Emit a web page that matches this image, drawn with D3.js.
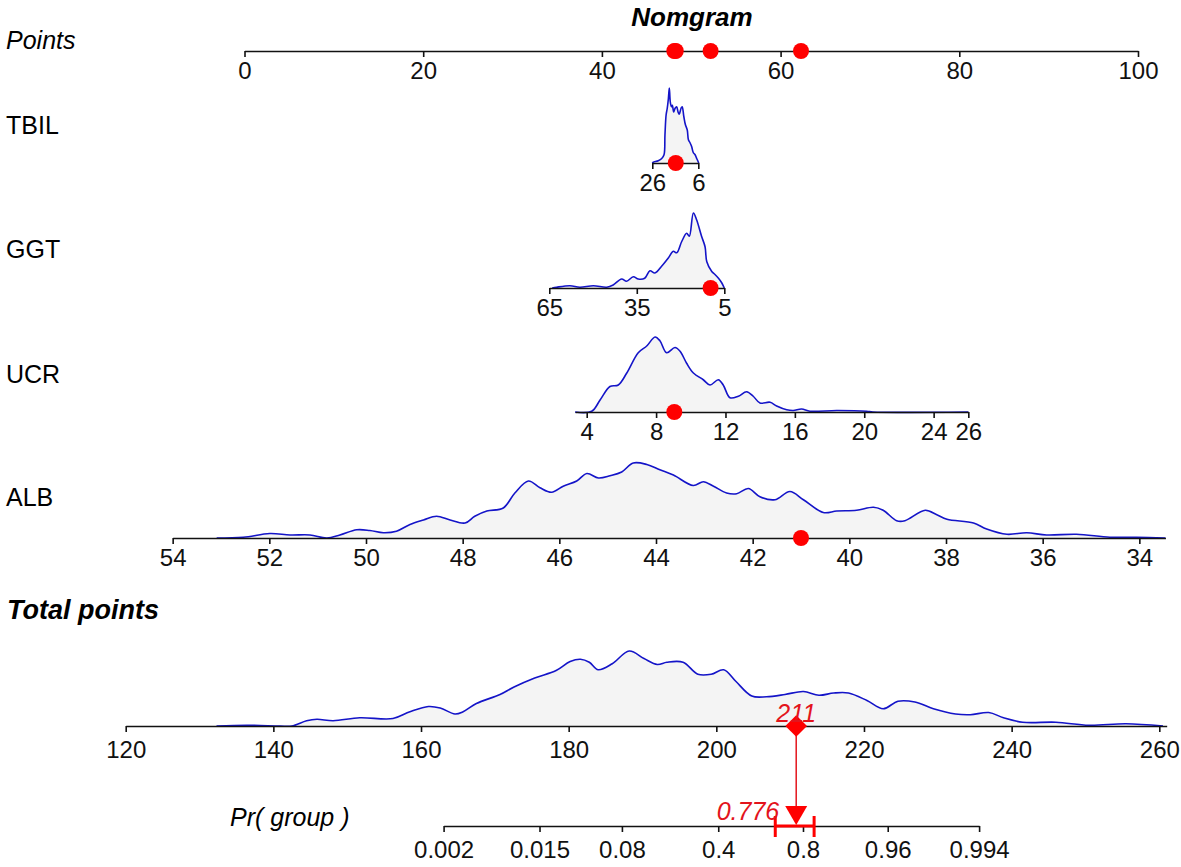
<!DOCTYPE html>
<html>
<head>
    <meta charset="utf-8">
    <title>Nomgram</title>
    <style>
        body { margin: 0; background: #fff; }
        text { font-family: "Liberation Sans", Arial, sans-serif; }
    </style>
</head>
<body>
    <script src="https://cdnjs.cloudflare.com/ajax/libs/d3/7.9.0/d3.min.js"></script>
    <script>

        // ---- data ----
        const pointsTicks = [0, 20, 40, 60, 80, 100];

        const variables = ["TBIL", "GGT", "UCR", "ALB"];

        // value anchors and the points they score
        const tbilValues = [26, 6],  tbilPoints = [45.64, 50.79];
        const ggtValues  = [65, 5],  ggtPoints  = [34.11, 53.70];
        const ucrValues  = [4, 26],  ucrPoints  = [38.30, 81.01];
        const albValues  = [54, 34], albPoints  = [-8.04, 100.15];

        // range of each axis line
        const tbilExtent = [26, 6];
        const ggtExtent  = [65, 5];
        const ucrExtent  = [3.33, 26];
        const albExtent  = [54, 33.46];

        const tbilTicks = [26, 6];
        const ggtTicks  = [65, 35, 5];
        const ucrTicks  = [4, 8, 12, 16, 20, 24, 26];
        const albTicks  = [54, 52, 50, 48, 46, 44, 42, 40, 38, 36, 34];

        // observed patient
        const tbilObs = 15.8, ggtObs = 9.7, ucrObs = 9.05, albObs = 41.0;

        // relative density [value, density]
        const tbilDensity = [[26,0],[25.6,0.01],[23.4,0.03],[21.9,0.06],[20.9,0.11],[20.5,0.37],[20.0,0.64],[19.5,0.73],[19.0,0.86],[18.6,1.0],[18.2,0.82],[17.7,0.75],[17.3,0.77],[16.7,0.68],[16.1,0.73],[15.4,0.75],[14.8,0.68],[14.3,0.65],[13.5,0.73],[13.0,0.75],[12.3,0.62],[11.6,0.51],[10.8,0.44],[10.3,0.31],[9.6,0.27],[8.9,0.22],[8.2,0.14],[7.4,0.11],[6.7,0.06],[5.8,0.0]];
        const ggtDensity = [[64,0],[62.5,0.01],[57.9,0.03],[54.5,0.01],[49.9,0.03],[45.3,0.01],[43.1,0.04],[40.2,0.12],[38.5,0.09],[36.2,0.15],[34.5,0.12],[32.3,0.13],[30.5,0.23],[28.8,0.20],[26.5,0.29],[24.2,0.40],[22.5,0.49],[21.3,0.47],[19.6,0.62],[17.9,0.73],[17.0,0.69],[15.6,1.0],[14.5,0.91],[12.8,0.69],[11.6,0.55],[11.0,0.35],[9.3,0.22],[8.2,0.18],[7.0,0.13],[5.9,0.07],[5.0,0]];
        const ucrDensity = [[3.33,0],[4.29,0.01],[4.77,0.16],[5.34,0.34],[5.82,0.36],[6.31,0.52],[6.97,0.79],[7.46,0.88],[7.94,1.0],[8.22,0.95],[8.61,0.79],[9.09,0.86],[9.38,0.81],[9.76,0.65],[10.15,0.52],[10.72,0.43],[11.11,0.36],[11.59,0.43],[11.87,0.36],[12.26,0.19],[12.74,0.21],[13.22,0.27],[13.6,0.21],[13.99,0.12],[14.57,0.13],[14.95,0.08],[15.53,0.03],[15.91,0.02],[16.39,0.04],[16.87,0.01],[18.41,0.02],[20.14,0.01],[20.5,0],[26,0]];
        const albDensity = [[53.09,0],[52.54,0.01],[51.99,0.06],[51.57,0.04],[51.16,0.04],[50.81,0],[50.54,0.04],[50.19,0.11],[49.92,0.10],[49.64,0.07],[49.37,0.09],[49.09,0.18],[48.81,0.24],[48.54,0.29],[48.26,0.24],[47.95,0.20],[47.75,0.29],[47.5,0.36],[47.16,0.40],[46.92,0.60],[46.64,0.76],[46.4,0.67],[46.16,0.61],[45.92,0.69],[45.64,0.76],[45.43,0.86],[45.19,0.80],[44.95,0.83],[44.71,0.88],[44.47,1.0],[44.19,0.98],[43.92,0.91],[43.64,0.84],[43.23,0.70],[43.02,0.75],[42.81,0.69],[42.54,0.60],[42.33,0.59],[42.09,0.66],[41.85,0.55],[41.54,0.51],[41.23,0.62],[40.95,0.51],[40.54,0.34],[40.26,0.36],[39.85,0.37],[39.5,0.41],[39.30,0.37],[39.02,0.23],[38.85,0.23],[38.43,0.37],[38.19,0.31],[37.98,0.25],[37.43,0.20],[37.16,0.12],[36.74,0.05],[36.33,0.07],[35.92,0.04],[35.30,0.05],[34.61,0.01],[34.06,0.01],[33.46,0]];

        const totalTicks  = [120, 140, 160, 180, 200, 220, 240, 260];
        const totalExtent = [120, 261];
        const totalDensity = [[132.3,0],[136.4,0.01],[140.9,0],[142.5,0],[144.5,0.07],[145.9,0.09],[148.1,0.07],[151.7,0.11],[156.2,0.10],[158.5,0.19],[161,0.26],[162.6,0.24],[164.6,0.16],[165.7,0.19],[167.5,0.30],[170.7,0.42],[172.6,0.52],[175.4,0.64],[178.3,0.74],[180.2,0.86],[181.6,0.89],[182.8,0.85],[184,0.75],[185.9,0.83],[188.2,1.0],[190.2,0.90],[192.0,0.82],[193.3,0.85],[195.5,0.85],[197.5,0.69],[199.3,0.69],[201.0,0.75],[202.6,0.60],[204.8,0.40],[206.8,0.39],[209.3,0.42],[211.8,0.46],[213.9,0.41],[215.9,0.44],[217.9,0.44],[220.4,0.34],[222.6,0.23],[224.6,0.33],[226.9,0.32],[229.4,0.23],[232.4,0.16],[234.4,0.15],[236.9,0.18],[238.9,0.11],[241.5,0.05],[246,0.05],[250.5,0.01],[255.5,0.03],[260.5,0]];

        // logistic model: lp = b0 + b1 * total
        const b0 = -31.666, b1 = 0.1561;
        const prTicks = [0.002, 0.015, 0.08, 0.4, 0.8, 0.96, 0.994];
        const prLower = 0.69, prUpper = 0.835;

        // ---- layout ----
        const width = 1181, height = 867;
        const rowY = {Points: 51, TBIL: 163, GGT: 288, UCR: 412, ALB: 538, Total: 726, Pr: 826};
        const densH = 75;
        const blue = "#1414c8", red = "#ff0000", darkRed = "#e3141c";
        const tickFont = 24;

        const svg = d3.select("body")
            .append("svg")
            .attr("width", width)
            .attr("height", height);

        const xPts = d3.scaleLinear().domain([0, 100]).range([244.5, 1138]);
        const xTot = d3.scaleLinear().domain([120, 260]).range([125.7, 1159.3]);

        const logit = p => Math.log(p / (1 - p));
        const sigmoid = v => 1 / (1 + Math.exp(-v));

        function varScale(values, points) {
            return d3.scaleLinear().domain(values).range(points.map(xPts));
        }
        function clip(s, ext) {
            return s.copy().domain(ext).range(ext.map(s));
        }

        function drawAxis(scale, y, ticks, pad, fmt) {
            const ax = d3.axisBottom(scale)
                .tickValues(ticks)
                .tickSize(6)
                .tickSizeOuter(0)
                .tickPadding(pad)
                .tickFormat(fmt || (d => d));
            const g = svg.append("g")
                .attr("transform", `translate(0,${y})`)
                .call(ax);
            g.select(".domain").attr("stroke", "#111").attr("stroke-width", 1.6);
            g.selectAll(".tick line").attr("stroke", "#111").attr("stroke-width", 1.6);
            g.selectAll(".tick text")
                .attr("fill", "#111")
                .attr("font-size", tickFont)
                .attr("font-family", "Liberation Sans, Arial, sans-serif");
            return g;
        }

        function drawDensity(scale, y, dens) {
            const yd = d3.scaleLinear().domain([0, 1]).range([y, y - densH]);
            const pts = dens.slice().sort((a, b) => scale(a[0]) - scale(b[0]));
            svg.append("path")
                .datum(pts)
                .attr("fill", "#f4f4f4")
                .attr("d", d3.area()
                    .x(d => scale(d[0]))
                    .y0(y)
                    .y1(d => yd(d[1]))
                    .curve(d3.curveCatmullRom.alpha(0.5)));
            svg.append("path")
                .datum(pts)
                .attr("fill", "none")
                .attr("stroke", blue)
                .attr("stroke-width", 1.6)
                .attr("d", d3.line()
                    .x(d => scale(d[0]))
                    .y(d => yd(d[1]))
                    .curve(d3.curveCatmullRom.alpha(0.5)));
        }

        // ---- title and labels ----
        svg.append("text")
            .attr("x", 692).attr("y", 26)
            .attr("text-anchor", "middle")
            .attr("font-size", 26).attr("font-weight", "bold").attr("font-style", "italic")
            .text("Nomgram");

        svg.append("text").attr("x", 6).attr("y", 49)
            .attr("font-size", 25).attr("font-style", "italic").text("Points");

        const labelY = {TBIL: 134, GGT: 258, UCR: 383, ALB: 506};
        variables.forEach(v => {
            svg.append("text").attr("x", 6).attr("y", labelY[v])
                .attr("font-size", 25).text(v);
        });

        svg.append("text").attr("x", 7).attr("y", 619)
            .attr("font-size", 27).attr("font-weight", "bold").attr("font-style", "italic")
            .text("Total points");

        svg.append("text").attr("x", 230).attr("y", 826)
            .attr("font-size", 25).attr("font-style", "italic").text("Pr( group )");

        // ---- variable rows ----
        const rows = [
            {name: "TBIL", s: varScale(tbilValues, tbilPoints), ext: tbilExtent, ticks: tbilTicks, dens: tbilDensity, obs: tbilObs},
            {name: "GGT",  s: varScale(ggtValues, ggtPoints),   ext: ggtExtent,  ticks: ggtTicks,  dens: ggtDensity,  obs: ggtObs},
            {name: "UCR",  s: varScale(ucrValues, ucrPoints),   ext: ucrExtent,  ticks: ucrTicks,  dens: ucrDensity,  obs: ucrObs},
            {name: "ALB",  s: varScale(albValues, albPoints),   ext: albExtent,  ticks: albTicks,  dens: albDensity,  obs: albObs}
        ];

        drawAxis(xPts, rowY.Points, pointsTicks, 5);

        let total = 0;
        rows.forEach(r => {
            const y = rowY[r.name];
            drawDensity(r.s, y, r.dens);
            drawAxis(clip(r.s, r.ext), y, r.ticks, 5);
            const pts = xPts.invert(r.s(r.obs));
            total += pts;
            svg.append("circle")
                .attr("cx", r.s(r.obs)).attr("cy", y).attr("r", 8).attr("fill", red);
            r.pts = pts;
        });

        rows.forEach(r => {
            svg.append("circle")
                .attr("cx", xPts(r.pts)).attr("cy", rowY.Points).attr("r", 8).attr("fill", red);
        });

        // ---- total points ----
        drawDensity(xTot, rowY.Total, totalDensity);
        drawAxis(clip(xTot, totalExtent), rowY.Total, totalTicks, 9);

        // ---- probability axis (logit scale tied to total points) ----
        const xLp = d3.scaleLinear()
            .domain([b0 + b1 * 120, b0 + b1 * 260])
            .range(xTot.range());
        const prExt = [logit(prTicks[0]), logit(prTicks[prTicks.length - 1])];
        drawAxis(clip(xLp, prExt), rowY.Pr, prTicks.map(logit), 9, (d, i) => prTicks[i]);

        const lp = b0 + b1 * total;
        const prob = sigmoid(lp);
        const xT = xTot(total);
        const xP = xLp(lp);

        // connector
        svg.append("line")
            .attr("x1", xT).attr("x2", xP)
            .attr("y1", rowY.Total).attr("y2", rowY.Pr - 12)
            .attr("stroke", darkRed).attr("stroke-width", 1.5);

        // confidence bracket
        const ciL = xLp(logit(prLower)), ciU = xLp(logit(prUpper));
        svg.append("line")
            .attr("x1", ciL).attr("x2", ciU)
            .attr("y1", rowY.Pr).attr("y2", rowY.Pr)
            .attr("stroke", red).attr("stroke-width", 3);
        [ciL, ciU].forEach(x => {
            svg.append("line")
                .attr("x1", x).attr("x2", x)
                .attr("y1", rowY.Pr - 10).attr("y2", rowY.Pr + 11)
                .attr("stroke", red).attr("stroke-width", 3);
        });

        // arrow head
        svg.append("path")
            .attr("d", d3.line()([[xP - 11, rowY.Pr - 20], [xP + 11, rowY.Pr - 20], [xP, rowY.Pr - 1]]) + "Z")
            .attr("fill", red);

        // diamond on total points
        svg.append("path")
            .attr("d", d3.symbol(d3.symbolSquare, 235)())
            .attr("transform", `translate(${xT},${rowY.Total}) rotate(45)`)
            .attr("fill", red);

        svg.append("text")
            .attr("x", xT).attr("y", rowY.Total - 4)
            .attr("text-anchor", "middle")
            .attr("font-size", 25).attr("font-style", "italic")
            .attr("fill", darkRed)
            .text(Math.round(total));

        svg.append("text")
            .attr("x", xP - 17).attr("y", rowY.Pr - 6)
            .attr("text-anchor", "end")
            .attr("font-size", 25).attr("font-style", "italic")
            .attr("fill", darkRed)
            .text(d3.format(".3f")(prob));

    </script>
</body>
</html>
